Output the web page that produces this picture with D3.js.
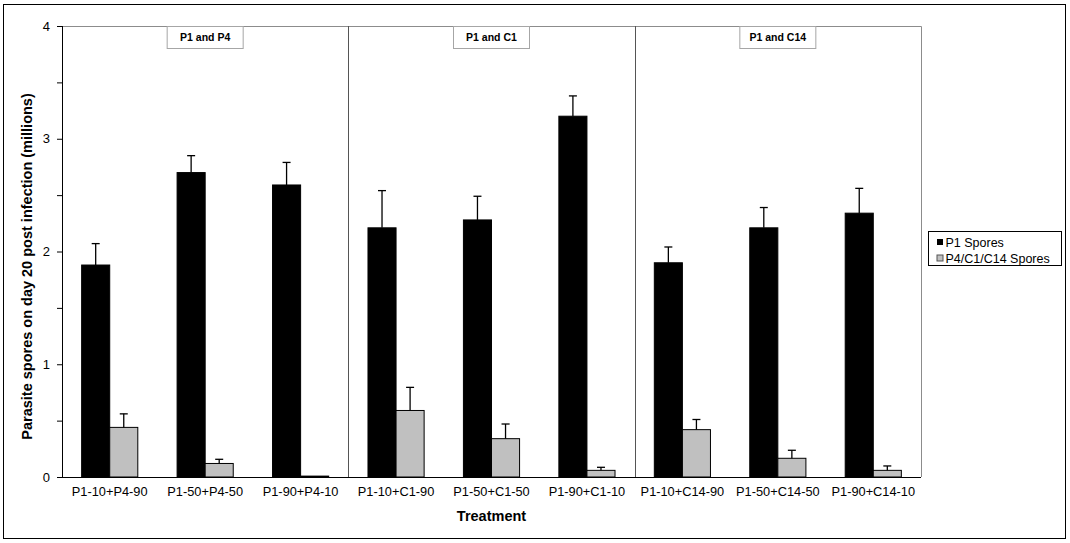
<!DOCTYPE html>
<html>
<head>
<meta charset="utf-8">
<script src="https://cdn.jsdelivr.net/npm/d3@7"></script>
<style>
  body { margin: 0; background: #fff; }
  text { font-family: "Liberation Sans", Arial, sans-serif; }
</style>
</head>
<body>
<svg id="chart"></svg>
<script>
const treatments = ["P1-10+P4-90", "P1-50+P4-50", "P1-90+P4-10",
                    "P1-10+C1-90", "P1-50+C1-50", "P1-90+C1-10",
                    "P1-10+C14-90", "P1-50+C14-50", "P1-90+C14-10"];
const panels = ["P1 and P4", "P1 and C1", "P1 and C14"];
const seriesNames = ["P1 Spores", "P4/C1/C14 Spores"];
const p1Spores = [1.88, 2.70, 2.59, 2.21, 2.28, 3.20, 1.90, 2.21, 2.34];
const p1Err = [0.19, 0.15, 0.20, 0.33, 0.21, 0.18, 0.14, 0.18, 0.22];
const otherSpores = [0.44, 0.12, 0.008, 0.59, 0.34, 0.059, 0.42, 0.166, 0.059];
const otherErr = [0.12, 0.037, 0, 0.205, 0.13, 0.027, 0.09, 0.071, 0.039];
const yTicks = [0, 0.5, 1, 1.5, 2, 2.5, 3, 3.5, 4];

const width = 1070, height = 543;
const margin = { top: 26, right: 149, bottom: 66, left: 62 };

const svg = d3.select("#chart")
              .attr("width", width)
              .attr("height", height);

// outer frame
svg.append("rect")
   .attr("x", 3.5).attr("y", 4.5)
   .attr("width", 1062).attr("height", 534)
   .attr("fill", "none").attr("stroke", "#000");

// build rows for each treatment
const rows = treatments.map((t, i) => ({
    treatment: t,
    bars: [
        { series: seriesNames[0], value: p1Spores[i], err: p1Err[i] },
        { series: seriesNames[1], value: otherSpores[i], err: otherErr[i] }
    ]
}));

const x0 = d3.scaleBand()
             .domain(treatments)
             .range([margin.left, width - margin.right])
             .padding(0);

const x1 = d3.scaleBand()
             .domain(seriesNames)
             .range([0, x0.bandwidth()])
             .paddingInner(0)
             .paddingOuter(0.7);

const y = d3.scaleLinear()
            .domain([0, 4])
            .range([height - margin.bottom, margin.top]);

const color = d3.scaleOrdinal()
                .domain(seriesNames)
                .range(["#000000", "#c0c0c0"]);

const plotL = margin.left, plotR = width - margin.right;
const plotT = margin.top, plotB = height - margin.bottom;

// plot area border (top / right) in grey
svg.append("path")
   .attr("d", `M${plotL},${plotT + 0.5}H${plotR + 0.5}V${plotB}`)
   .attr("fill", "none")
   .attr("stroke", "#8c8c8c");

// panel dividers
[3, 6].forEach(i => {
    const xv = Math.round(x0(treatments[i])) + 0.5;
    svg.append("line")
       .attr("x1", xv).attr("x2", xv)
       .attr("y1", plotT).attr("y2", plotB)
       .attr("stroke", "#555");
});

// panel labels
panels.forEach((p, i) => {
    const xs = x0(treatments[i * 3]);
    const xe = x0(treatments[i * 3 + 2]) + x0.bandwidth();
    const cx = (xs + xe) / 2;
    svg.append("rect")
       .attr("x", cx - 38).attr("y", plotT + 0.5)
       .attr("width", 76).attr("height", 22)
       .attr("fill", "#fff")
       .attr("stroke", "#a6a6a6");
    svg.append("text")
       .attr("x", cx).attr("y", plotT + 15)
       .attr("text-anchor", "middle")
       .style("font-size", "10.5px")
       .style("font-weight", "bold")
       .text(p);
});

// bars
const groups = svg.selectAll(".grp")
   .data(rows)
   .enter()
   .append("g")
   .attr("class", "grp")
   .attr("transform", d => `translate(${x0(d.treatment)},0)`);

groups.selectAll("rect")
   .data(d => d.bars)
   .enter()
   .append("rect")
   .attr("x", d => x1(d.series))
   .attr("y", d => y(d.value))
   .attr("width", x1.bandwidth())
   .attr("height", d => y(0) - y(d.value))
   .attr("fill", d => color(d.series))
   .attr("stroke", "#000")
   .attr("stroke-width", 1);

// error bars (upper only)
const errs = groups.selectAll(".err")
   .data(d => d.bars.filter(b => b.err > 0))
   .enter()
   .append("g")
   .attr("class", "err");

errs.append("line")
    .attr("x1", d => x1(d.series) + x1.bandwidth() / 2)
    .attr("x2", d => x1(d.series) + x1.bandwidth() / 2)
    .attr("y1", d => y(d.value))
    .attr("y2", d => y(d.value + d.err))
    .attr("stroke", "#000").attr("stroke-width", 1.3);

errs.append("line")
    .attr("x1", d => x1(d.series) + x1.bandwidth() / 2 - 4)
    .attr("x2", d => x1(d.series) + x1.bandwidth() / 2 + 4)
    .attr("y1", d => y(d.value + d.err))
    .attr("y2", d => y(d.value + d.err))
    .attr("stroke", "#000").attr("stroke-width", 1.3);

// x axis
const xAxis = svg.append("g")
   .attr("transform", `translate(0,${plotB})`)
   .call(d3.axisBottom(x0).tickSize(0).tickPadding(10));
xAxis.select(".domain").attr("stroke", "#000").attr("d", `M${plotL},0.5H${plotR}`);
xAxis.selectAll("text")
     .style("font-size", "12.8px")
     .style("font-family", "'Liberation Sans', Arial, sans-serif")
     .attr("fill", "#000");

// y axis
const yAxis = svg.append("g")
   .attr("transform", `translate(${plotL},0)`)
   .call(d3.axisLeft(y)
           .tickValues(yTicks)
           .tickSize(5)
           .tickPadding(7)
           .tickFormat(d => Number.isInteger(d) ? d : ""));
yAxis.select(".domain").attr("d", `M0.5,${plotT}V${plotB}`).attr("stroke", "#000");
yAxis.selectAll("text")
     .style("font-size", "13px")
     .style("font-family", "'Liberation Sans', Arial, sans-serif")
     .attr("fill", "#000");

// axis titles
svg.append("text")
   .attr("x", (plotL + plotR) / 2)
   .attr("y", 521)
   .attr("text-anchor", "middle")
   .style("font-size", "14.5px")
   .style("font-weight", "bold")
   .text("Treatment");

svg.append("text")
   .attr("transform", `translate(32,${(plotT + plotB) / 2 + 15}) rotate(-90)`)
   .attr("text-anchor", "middle")
   .style("font-size", "14.5px")
   .style("font-weight", "bold")
   .text("Parasite spores on day 20 post infection (millions)");

// legend
const legend = svg.append("g")
   .attr("transform", "translate(928.5,231.5)");

legend.append("rect")
      .attr("width", 133).attr("height", 34)
      .attr("fill", "#fff").attr("stroke", "#000");

seriesNames.forEach((s, i) => {
    legend.append("rect")
          .attr("x", 8.5).attr("y", 7.5 + i * 16)
          .attr("width", 6).attr("height", 6)
          .attr("fill", color(s))
          .attr("stroke", i === 0 ? "none" : "#555");
    legend.append("text")
          .attr("x", 17).attr("y", 15 + i * 16)
          .style("font-size", "12.5px")
          .text(s);
});
</script>
</body>
</html>
